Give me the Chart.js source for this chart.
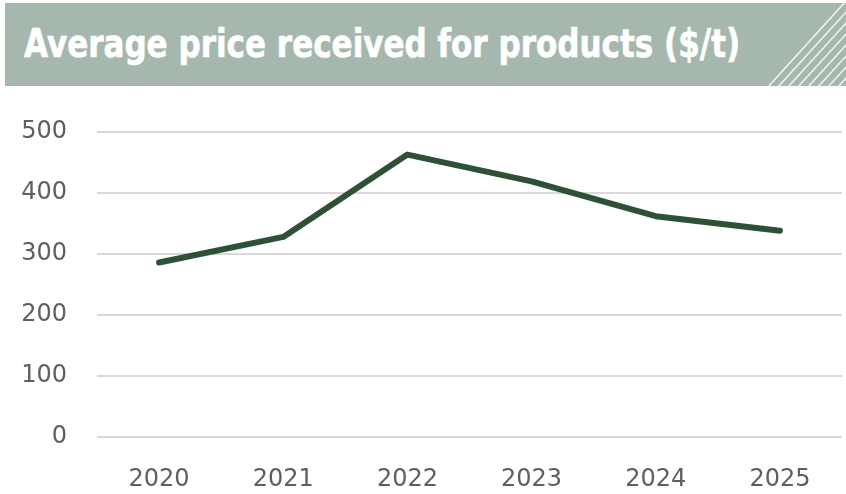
<!DOCTYPE html>
<html>
<head>
<meta charset="utf-8">
<script src="https://cdn.jsdelivr.net/npm/chart.js@4.4.1/dist/chart.umd.min.js"></script>
<style>
  html, body { margin: 0; padding: 0; background: #fff; }
  #wrap { position: relative; width: 846px; height: 494px; overflow: hidden; }
  #chart { position: absolute; left: 0; top: 0; }
  .banner {
    position: absolute; left: 5px; top: 3px; width: 841px; height: 83px;
    background: #a6b8ae; overflow: hidden;
  }
  .banner h1 {
    position: absolute; left: 19px; top: 21px; margin: 0;
    font-family: "DejaVu Sans", sans-serif;
    font-weight: bold; font-size: 39px; line-height: 39px; color: #fff;
    -webkit-text-stroke: 0.7px #fff;
    white-space: nowrap; transform-origin: 0 0;
  }
  .banner svg { position: absolute; left: 0; top: 0; }
</style>
</head>
<body>
<div id="wrap">
  <canvas id="chart" width="846" height="494"></canvas>
  <div class="banner">
    <h1 id="title">Average price received for products ($/t)</h1>
    <svg width="841" height="83" id="hatch"></svg>
  </div>
</div>
<script>
const years = ["2020", "2021", "2022", "2023", "2024", "2025"];
const prices = [286, 328, 463, 419, 362, 338];
const yMin = 0;
const yMax = 500;
const yStep = 100;

// squeeze the heading into a condensed look
const title = document.getElementById("title");
const titleWidth = 716;
title.style.transform = "scaleX(" + (titleWidth / title.offsetWidth) + ")";

// diagonal stripes in the banner's right corner
const hatch = document.getElementById("hatch");
for (let k = 0; k < 8; k++) {
  const x0 = 762 + k * 10;
  const line = document.createElementNS("http://www.w3.org/2000/svg", "line");
  line.setAttribute("x1", x0);
  line.setAttribute("y1", 85);
  line.setAttribute("x2", x0 + 90);
  line.setAttribute("y2", 85 - 90 * 1.1);
  line.setAttribute("stroke", "#eef3ef");
  line.setAttribute("stroke-width", "1.6");
  hatch.appendChild(line);
}

const tickFont = { family: "'DejaVu Sans', sans-serif", size: 24 };

new Chart(document.getElementById("chart"), {
  type: "line",
  data: {
    labels: years,
    datasets: [
      {
        data: prices,
        borderColor: "#2e5034",
        borderWidth: 6,
        borderCapStyle: "round",
        borderJoinStyle: "round",
        pointRadius: 0,
        tension: 0,
        fill: false,
      },
    ],
  },
  options: {
    responsive: false,
    animation: false,
    layout: { padding: { top: 132, right: 4, left: 0, bottom: 0 } },
    plugins: {
      legend: { display: false },
      tooltip: { enabled: false },
    },
    scales: {
      x: {
        offset: true,
        grid: { display: false, drawTicks: false },
        border: { display: false },
        ticks: { color: "#5f5f5f", font: tickFont, padding: 28, maxRotation: 0 },
        afterFit: (s) => { s.height = 57; },
      },
      y: {
        min: yMin,
        max: yMax,
        grid: { color: "#d9d9d9", lineWidth: 2, drawTicks: false },
        border: { display: false },
        ticks: { stepSize: yStep, color: "#5f5f5f", font: tickFont, padding: 30 },
        afterFit: (s) => { s.width = 97; },
      },
    },
  },
});
</script>
</body>
</html>
